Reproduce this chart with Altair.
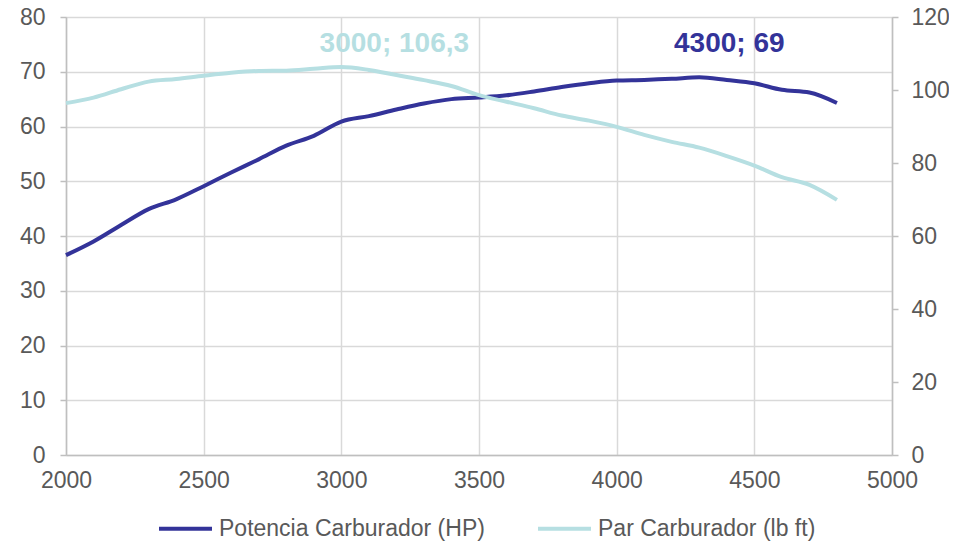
import altair as alt
import pandas as pd

rpm = [2000, 2100, 2200, 2300, 2400, 2500, 2600, 2700, 2800, 2900, 3000,
       3100, 3200, 3300, 3400, 3500, 3600, 3700, 3800, 3900, 4000,
       4100, 4200, 4300, 4400, 4500, 4600, 4700, 4800]
potencia = [36.5, 39.0, 42.0, 44.9, 46.7, 49.1, 51.6, 54.0, 56.5, 58.3, 60.9,
            61.9, 63.1, 64.2, 65.0, 65.3, 65.7, 66.4, 67.2, 67.9, 68.4,
            68.5, 68.7, 69.0, 68.5, 67.9, 66.7, 66.2, 64.3]
par = [96.4, 97.9, 100.2, 102.3, 103.0, 103.9, 104.7, 105.2, 105.3, 105.8, 106.3,
       105.5, 104.1, 102.7, 101.1, 98.6, 96.8, 95.0, 93.0, 91.6, 89.9,
       87.7, 85.8, 84.2, 81.9, 79.3, 76.1, 74.0, 69.9]

serie_pot = "Potencia Carburador (HP)"
serie_par = "Par Carburador (lb ft)"
series = [serie_pot, serie_par]
colors = ["#333399", "#B6DFE2"]

x_ticks = [2000, 2500, 3000, 3500, 4000, 4500, 5000]
left_ticks = [0, 10, 20, 30, 40, 50, 60, 70, 80]
right_ticks = [0, 20, 40, 60, 80, 100, 120]

df_pot = pd.DataFrame({"rpm": rpm, "valor": potencia, "serie": serie_pot})
df_par = pd.DataFrame({"rpm": rpm, "valor": par, "serie": serie_par})
lab_pot = pd.DataFrame({"rpm": [4300], "valor": [69.0], "txt": ["4300; 69"]})
lab_par = pd.DataFrame({"rpm": [3000], "valor": [106.3], "txt": ["3000; 106,3"]})

FONT = "Liberation Sans"
GRAY = "#595959"

x_enc = alt.X("rpm:Q", scale=alt.Scale(domain=[2000, 5000], nice=False, zero=False),
              axis=alt.Axis(values=x_ticks, format="d", title=None, grid=True,
                            gridColor="#D9D9D9", gridWidth=1.5, domainColor="#BFBFBF",
                            domainWidth=1.5, ticks=False, labelPadding=14,
                            labelFontSize=23, labelColor=GRAY, labelFont=FONT,
                            labelFlush=False))

color_enc = alt.Color("serie:N", scale=alt.Scale(domain=series, range=colors),
                      legend=alt.Legend(title=None, orient="none", direction="horizontal",
                                        legendX=91, legendY=483, symbolType="stroke",
                                        symbolSize=2809, symbolStrokeWidth=4,
                                        labelFontSize=23, labelFont=FONT, labelColor=GRAY,
                                        labelLimit=500, labelOffset=5, columnPadding=45,
                                        padding=0))

y_left = alt.Y("valor:Q", scale=alt.Scale(domain=[0, 80], nice=False),
               axis=alt.Axis(values=left_ticks, format="d", title=None, grid=True,
                             gridColor="#D9D9D9", gridWidth=1.5, domainColor="#BFBFBF",
                             domainWidth=1.5, tickColor="#BFBFBF", tickSize=6,
                             tickWidth=1.5, labelPadding=15, labelFontSize=23,
                             labelColor=GRAY, labelFont=FONT, orient="left"))
y_right = alt.Y("valor:Q", scale=alt.Scale(domain=[0, 120], nice=False),
                axis=alt.Axis(values=right_ticks, format="d", title=None, grid=False,
                              domainColor="#BFBFBF", domainWidth=1.5,
                              tickColor="#BFBFBF", tickSize=6, tickWidth=1.5,
                              labelPadding=13, labelFontSize=23, labelColor=GRAY,
                              labelFont=FONT, orient="right"))

line_pot = alt.Chart(df_pot).mark_line(strokeWidth=4, interpolate="monotone").encode(
    x=x_enc, y=y_left, color=color_enc)
text_pot = alt.Chart(lab_pot).mark_text(fontSize=28, fontWeight="bold", font=FONT,
                                        align="center", baseline="alphabetic",
                                        dx=30, dy=-25, color=colors[0]).encode(
    x="rpm:Q", y="valor:Q", text="txt:N")

line_par = alt.Chart(df_par).mark_line(strokeWidth=4, interpolate="monotone").encode(
    x=x_enc, y=y_right, color=color_enc)
text_par = alt.Chart(lab_par).mark_text(fontSize=28, fontWeight="bold", font=FONT,
                                        align="center", baseline="alphabetic",
                                        dx=53, dy=-15, color=colors[1]).encode(
    x="rpm:Q", y="valor:Q", text="txt:N")

left = alt.layer(line_pot, text_pot)
right = alt.layer(line_par, text_par)

chart = alt.layer(left, right).resolve_scale(y="independent").properties(
    width=826, height=438,
    autosize=alt.AutoSizeParams(type="none"),
    padding={"left": 58, "top": 9, "right": 57, "bottom": 86},
).configure_view(stroke=None).configure(background="white")

chart.save("out.html", embed_options={"renderer": "svg", "actions": False})
